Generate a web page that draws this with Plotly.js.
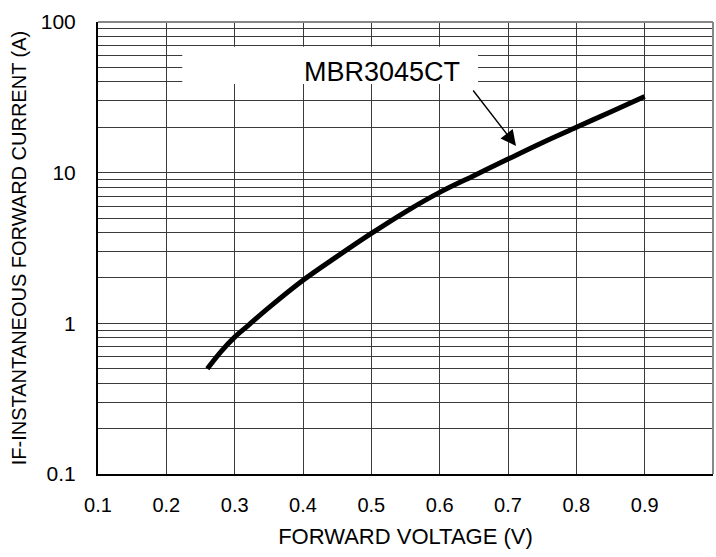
<!DOCTYPE html>
<html>
<head>
<meta charset="utf-8">
<script src="https://cdn.plot.ly/plotly-3.0.1.min.js"></script>
<style>html,body{margin:0;padding:0;background:#fff;}</style>
</head>
<body>
<div id="chart" style="width:716px;height:557px;"></div>
<script>
// Data
const forwardVoltage = [0.26, 0.28, 0.30, 0.32, 0.35, 0.40, 0.45, 0.50, 0.55, 0.60, 0.65, 0.70, 0.75, 0.80, 0.85, 0.90];
const forwardCurrent = [0.50, 0.65, 0.81, 0.97, 1.27, 1.93, 2.78, 3.95, 5.50, 7.40, 9.55, 12.3, 15.8, 20.0, 25.3, 32.0];
const seriesName = 'MBR3045CT';
const xTickVals = [0.1, 0.2, 0.3, 0.4, 0.5, 0.6, 0.7, 0.8, 0.9, 1.0];
const xTickText = ['0.1', '0.2', '0.3', '0.4', '0.5', '0.6', '0.7', '0.8', '0.9', '1'];
const yTickVals = [0.1, 1, 10, 100];
const yTickText = ['0.1', '1', '10', '100'];
const yMinorVals = [0.2,0.3,0.4,0.5,0.6,0.7,0.8,0.9, 2,3,4,5,6,7,8,9, 20,30,40,50,60,70,80,90];

const font = 'Liberation Sans, Arial, Helvetica, sans-serif';
const gridColor = '#3a3a3a';

const trace = {
  x: forwardVoltage,
  y: forwardCurrent,
  type: 'scatter',
  mode: 'lines',
  name: seriesName,
  line: {color: '#000', width: 5, shape: 'spline', smoothing: 1},
  hoverinfo: 'x+y'
};

const layout = {
  width: 716,
  height: 557,
  margin: {l: 98, r: 3, t: 22, b: 83},
  paper_bgcolor: '#fff',
  plot_bgcolor: '#fff',
  showlegend: false,
  font: {family: font, size: 20, color: '#000'},
  xaxis: {
    range: [0.1, 1.0],
    tickvals: xTickVals,
    ticktext: xTickText,
    showgrid: true,
    gridcolor: gridColor,
    gridwidth: 1,
    zeroline: false,
    showline: true,
    linecolor: '#000',
    linewidth: 2,
    ticks: '',
    ticklabelstandoff: 12,
    tickfont: {family: font, size: 20, color: '#000'},
    title: {text: 'FORWARD VOLTAGE (V)', font: {family: font, size: 22, color: '#000'}, standoff: 14},
    automargin: false,
    fixedrange: true
  },
  yaxis: {
    type: 'log',
    range: [-1, 2],
    tickvals: yTickVals,
    ticktext: yTickText,
    showgrid: true,
    gridcolor: gridColor,
    gridwidth: 1,
    minor: {tickvals: yMinorVals, showgrid: true, gridcolor: gridColor, gridwidth: 1, ticks: ''},
    zeroline: false,
    showline: true,
    linecolor: '#000',
    linewidth: 2,
    ticks: '',
    ticklabelstandoff: 16,
    tickfont: {family: font, size: 21, color: '#000'},
    title: {text: 'IF-INSTANTANEOUS FORWARD CURRENT (A)', font: {family: font, size: 20, color: '#000'}, standoff: 9},
    automargin: false,
    fixedrange: true
  },
  shapes: [
    {type: 'rect', xref: 'paper', yref: 'paper', x0: 0.137, x1: 0.618, y0: 0.863, y1: 0.945,
     fillcolor: '#fff', line: {width: 0}, layer: 'above'},
    {type: 'line', xref: 'paper', yref: 'paper', x0: 0, x1: 1, y0: 1, y1: 1, line: {color: '#888', width: 2}},
    {type: 'line', xref: 'paper', yref: 'paper', x0: 1, x1: 1, y0: 0, y1: 1, line: {color: '#888', width: 2}}
  ],
  annotations: [
    {xref: 'paper', yref: 'paper', x: 0.462, y: 0.889, text: seriesName, showarrow: false,
     font: {family: font, size: 27, color: '#000'}, xanchor: 'center', yanchor: 'middle'},
    {xref: 'paper', yref: 'paper', x: 0.6797, y: 0.7257, text: '', showarrow: true,
     ax: -44, ay: -57, axref: 'pixel', ayref: 'pixel', arrowhead: 2, arrowsize: 2.2, arrowwidth: 1.4, arrowcolor: '#000'}
  ]
};

Plotly.newPlot('chart', [trace], layout, {displayModeBar: false, staticPlot: true});
</script>
</body>
</html>
